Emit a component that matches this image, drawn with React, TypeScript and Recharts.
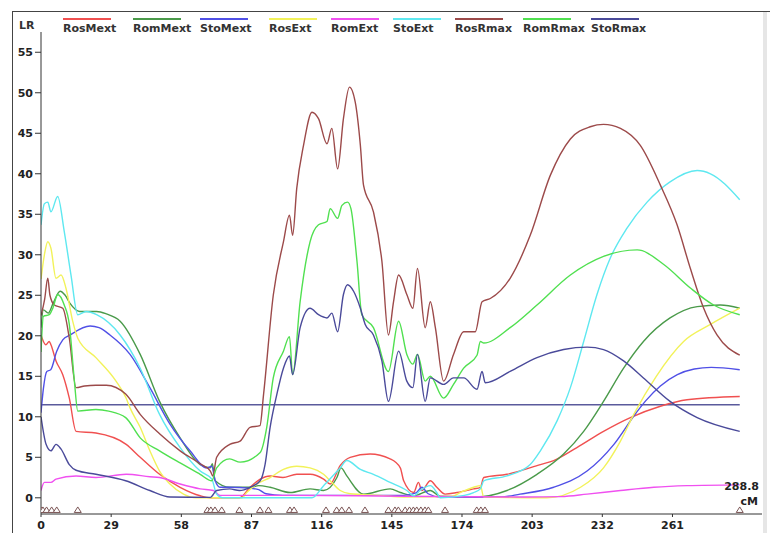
import React from 'react';
import { ComposedChart, Line, Scatter, XAxis, YAxis, ReferenceLine } from 'recharts';

// LR profiles along the linkage map, [cM, LR]
const rosMext: [number, number][] = [
  [0, 20.1], [2, 18.9], [3.4, 19.3], [4.1, 18.9], [6.2, 16.9], [9, 15.2], [11.7, 12.3], [14.5, 8.2],
  [22.7, 8.0], [35.2, 6.6], [41, 5.0], [49, 2.9], [57.5, 1.3], [65.8, 0.25], [70, 0], [82, 0],
  [86.4, 1.3], [90.6, 2.3], [94.7, 2.7], [100, 2.5], [105.7, 2.9], [111.2, 2.9], [116.8, 2.3],
  [119.5, 1.7], [123.7, 4.0], [127.8, 5.0], [136, 5.4], [144.3, 4.8], [148.5, 3.7], [149.9, 2.1],
  [154, 0.65], [156, 1.9], [157.4, 0.9], [160.9, 2.1], [163.6, 1.3], [167, 0.45], [171.9, 0.65],
  [178.8, 1.1], [181.6, 1.3], [183, 2.5], [192.6, 2.9], [206.4, 4.1], [211.9, 4.6], [221.5, 6.2],
  [232.5, 8.2], [243.6, 9.9], [256, 11.3], [267, 12.1], [288.8, 12.5],
];
const romMext: [number, number][] = [
  [0, 21], [1, 23.2], [3, 22.8], [5, 24], [7.9, 25.5], [10, 25], [12, 24], [16, 23], [23, 23],
  [27, 22.7], [32.7, 21.8], [41, 17.7], [49, 11.9], [57.5, 7.4], [65.8, 4.1], [70, 3.7], [70.8, 4.2],
  [72, 2.1], [78, 1.3], [86.4, 1.3], [90, 1.5], [94.7, 1.3], [103, 0.65], [111.2, 1.1], [116.8, 0.9],
  [122.3, 2.5], [124, 3.7], [126.4, 2.7], [133.3, 0.45], [144.3, 1.1], [148.5, 0.65], [154, 0.25],
  [160.9, 0.9], [165, 0.2], [180, 0.1], [192.6, 0.9], [205, 2.9], [216, 5.4], [224.3, 8.2],
  [232.5, 11.9], [240.8, 16], [249, 19.3], [260, 22.2], [271.2, 23.6], [280.8, 23.8], [288.8, 23.4],
];
const stoMext: [number, number][] = [
  [0, 10.5], [1, 13.5], [2.4, 15.6], [4, 15.8], [6.5, 18.1], [9, 19.5], [12, 20.1], [20.3, 21.2],
  [24, 21], [28.5, 20.1], [36.8, 17.7], [45, 13.6], [53.3, 9.1], [61.6, 5.8], [68.5, 3.7], [70.6, 3.9],
  [72, 2.1], [74, 1.3], [78, 1.3], [86, 1.2], [90, 1.0], [93, 0.5], [100, 0.3], [150, 0.3], [155, 0.6],
  [157.4, 1.3], [160, 0.5], [165, 0.1], [190, 0.1], [198, 0.45], [211.9, 1.3], [225.7, 3.3],
  [236.8, 6.6], [246, 10.5], [250, 12], [256, 13.8], [263, 15.2], [270, 15.9], [277, 16.1], [288.8, 15.8],
];
const rosExt: [number, number][] = [
  [0, 27], [1.4, 30], [2.8, 31.6], [4.1, 30.8], [6.2, 27.1], [8.3, 27.5], [10.3, 25.9], [13.1, 21.8],
  [15.2, 19.7], [22.7, 17.3], [31, 14.4], [35.2, 12.3], [36.8, 11.1], [41, 8.7], [45, 5.8], [49, 3.3],
  [53.3, 1.7], [58.9, 0.45], [64, 0], [83, 0], [85, 0.65], [89.2, 1.7], [94.7, 2.5], [100.2, 3.5],
  [105.7, 3.9], [111.2, 3.7], [116.8, 2.9], [120.2, 1.9], [123.7, 0.9], [127.8, 0.5], [140, 0.3],
  [150, 0.1], [170, 0.2], [173.3, 0.65], [178.8, 1.3], [181.6, 1.5], [183, 0.1], [209, 0], [223, 1.3],
  [232.5, 3.7], [239.5, 7.0], [245, 10.3], [254.3, 15], [265.6, 19.3], [276.7, 21.4], [288.8, 23.4],
];
const romExt: [number, number][] = [
  [0, 0.9], [1.4, 1.9], [4.1, 1.9], [6.2, 2.3], [14.5, 2.7], [22.7, 2.5], [35.2, 2.9], [45, 2.6],
  [49, 2.5], [57.5, 1.7], [65.8, 1.1], [71.3, 0.9], [74, 0.3], [100, 0.3], [150, 0.2], [200, 0.1],
  [215, 0.15], [225.7, 0.45], [239.5, 0.9], [253.3, 1.3], [267, 1.5], [288.8, 1.6],
];
const stoExt: [number, number][] = [
  [0, 33.7], [1.4, 36.3], [2.8, 36.5], [4.1, 35.3], [6.9, 37.2], [9.6, 32.9], [12.4, 27.5],
  [15.2, 22.6], [18.6, 23], [23, 22.6], [32.7, 20.1], [41, 16], [49, 10.3], [57.5, 6.2], [65.8, 3.3],
  [70.6, 2.3], [72.6, 0.45], [75, 0], [112, 0], [116.8, 1.5], [120, 2.5], [123.7, 3.7], [126.4, 4.6],
  [132, 3.5], [137.4, 2.9], [144.3, 1.9], [151.2, 0.9], [154, 0.25], [156.7, 0.9], [160.9, 1.5],
  [163.6, 0.65], [165, 0], [175, 0.3], [178.8, 0.65], [181.6, 1.1], [183, 2.1], [192.6, 2.7],
  [202.2, 4.1], [206.4, 5.8], [213.3, 9.5], [218.8, 13.6], [224.3, 19.3], [229.8, 25.1], [235.3, 29.6],
  [242.2, 33.3], [250.5, 36.5], [260, 39], [271.2, 40.4], [276.7, 40], [288.8, 36.8],
];
const rosRmax: [number, number][] = [
  [0, 22.5], [1.5, 24.5], [2.8, 27.1], [3.7, 25.0], [5.5, 23.8], [9, 23.4], [11.7, 19.7], [14.5, 13.6],
  [18, 13.8], [22.7, 13.9], [27, 13.9], [35, 12.8], [41, 10.3], [49, 7.9], [57.5, 5.8], [65.8, 4.2],
  [70, 3.3], [71, 2.7], [72.6, 5.0], [78, 6.6], [82.3, 7.0], [86.4, 8.7], [90.5, 8.9], [92, 12.8],
  [96, 25], [100.2, 31.6], [102.7, 34.9], [104, 32.4], [105.7, 38.2], [108.5, 43.5], [112, 47.6],
  [114.7, 46.8], [118.2, 43.7], [120.2, 45.6], [122.6, 40.6], [125, 46.8], [127.5, 50.7], [129.9, 48.8],
  [132, 43.5], [133.3, 38.6], [137.4, 35.3], [140.9, 29.2], [143.6, 20.1], [145.7, 24.2], [147.8, 27.5],
  [151.2, 25.1], [153.7, 23.4], [155.6, 28.3], [158.8, 21.0], [160.9, 24.2], [163, 21], [166.4, 14.4],
  [170.5, 17.7], [174.7, 20.5], [179.5, 20.5], [182.3, 24.2], [185.7, 24.6], [193.9, 27.1],
  [202.2, 32.4], [210.5, 39.8], [218.8, 44.3], [227, 45.8], [232.5, 46.1], [239.5, 45.6],
  [247.7, 43.5], [256, 38.6], [262.9, 33.7], [268.4, 28.3], [273.9, 23.4], [279.4, 20.1], [288.8, 17.6],
];
const romRmax: [number, number][] = [
  [0, 18], [1, 22.4], [3.4, 22.6], [5, 23.5], [6.9, 25.1], [9.6, 23.8], [11.7, 21.4], [13.8, 14.4],
  [15.2, 10.7], [22.7, 10.9], [28, 10.7], [35, 9.9], [41, 7.4], [49, 5.8], [57.5, 4.3], [65.8, 2.9],
  [70.6, 2.1], [72.6, 3.7], [78, 4.8], [82.3, 4.4], [90.6, 5.6], [93.3, 8.7], [96, 14.8], [100.2, 18.1],
  [102.7, 19.9], [104, 15.2], [107.1, 24.2], [111.2, 31.6], [114.7, 33.7], [118.2, 34.1], [119.5, 35.7],
  [122.6, 34.5], [124.4, 36.1], [126.7, 36.5], [128.1, 35.7], [130.6, 29.2], [132.6, 22.6], [137.4, 21],
  [143.6, 15.6], [147.8, 21.8], [151.2, 17.7], [153.7, 16.5], [155.6, 17.7], [158.8, 14.4], [160.9, 15],
  [166.4, 12.3], [170.5, 14], [174.7, 16.0], [180.2, 17.6], [181.6, 19.3], [183, 19.1], [193.9, 21],
  [205, 23.8], [218.8, 27.5], [232.5, 29.8], [246.4, 30.6], [257.4, 28.8], [268.4, 25.9], [278, 23.8],
  [288.8, 22.6],
];
const stoRmax: [number, number][] = [
  [0, 10], [2.1, 6.6], [4.1, 5.8], [6.2, 6.6], [8.3, 6.0], [11.7, 4.1], [14.5, 3.4], [22.7, 2.9],
  [35, 2.1], [45, 0.9], [53.3, 0.1], [70, 0.05], [72.6, 0.9], [78, 1.1], [82, 0.9], [86.4, 1.3],
  [90.6, 2.1], [92.6, 4.1], [94.7, 8.7], [97.5, 12.8], [100.2, 16], [102.7, 17.5], [104, 15.2],
  [107.1, 21], [111.2, 23.4], [114.7, 22.6], [118.2, 22.2], [120.2, 22.8], [122.6, 20.5], [125, 25.1],
  [126.7, 26.3], [129.2, 25.5], [132, 23.4], [134, 21.4], [137.4, 20.1], [140.9, 16.9], [143.6, 11.9],
  [147.8, 18.1], [151.2, 14.4], [153.7, 13.6], [155.6, 17.7], [158.8, 11.9], [160.9, 14.8], [166.4, 14],
  [170.5, 14.8], [174.7, 14.8], [180.2, 13.4], [182.3, 15.6], [183.6, 14.2], [193.9, 15.6], [205, 17.3],
  [216, 18.3], [225.7, 18.6], [232.5, 18.3], [240.8, 16.9], [249, 14.8], [260, 11.9], [271.2, 9.9],
  [288.8, 8.2],
];

// marker positions (cM) shown as triangles under the profiles
const markers = [
  0, 0.8, 2.3, 4.4, 6.5, 15.2, 68.8, 70.2, 71.9, 74.7, 82.0, 90.5, 94.0, 102.9, 104.6, 117.8, 122.2,
  124.3, 127.3, 133.9, 143.6, 146.3, 147.7, 150.5, 152.3, 153.9, 155.3, 157, 158.7, 160.1, 167, 180.1,
  181.8, 183.5, 288.8,
];

const threshold = 11.5;
const mapLength = 288.8;
const xTicks = [0, 29, 58, 87, 116, 145, 174, 203, 232, 261];
const yTicks = [0, 5, 10, 15, 20, 25, 30, 35, 40, 45, 50, 55];

const series = [
  { name: 'RosMext', color: '#f05050', data: rosMext, legendX: 63 },
  { name: 'RomMext', color: '#4a9a4a', data: romMext, legendX: 133 },
  { name: 'StoMext', color: '#5050e6', data: stoMext, legendX: 200 },
  { name: 'RosExt', color: '#f2f25a', data: rosExt, legendX: 269 },
  { name: 'RomExt', color: '#f050f0', data: romExt, legendX: 331 },
  { name: 'StoExt', color: '#5ee8f0', data: stoExt, legendX: 393 },
  { name: 'RosRmax', color: '#9c4a4a', data: rosRmax, legendX: 455 },
  { name: 'RomRmax', color: '#50e050', data: romRmax, legendX: 523 },
  { name: 'StoRmax', color: '#4a4a9a', data: stoRmax, legendX: 591 },
];

const font = 'DejaVu Sans, Verdana, sans-serif';
const tickStyle = { fontSize: 11, fontWeight: 'bold', fill: '#222', fontFamily: font };

const Triangle = (props: any) => {
  const { cx, cy } = props;
  if (cx == null || cy == null) return null;
  return (
    <polygon
      points={`${cx},${cy - 3} ${cx - 3.5},${cy + 2.5} ${cx + 3.5},${cy + 2.5}`}
      fill="#fff"
      stroke="#7a5454"
      strokeWidth={1}
    />
  );
};

const label = (left: number, top: number, text: string, extra: React.CSSProperties = {}) => (
  <div
    style={{
      position: 'absolute', left, top, fontFamily: font, fontSize: 11, fontWeight: 'bold',
      color: '#333', lineHeight: '13px', whiteSpace: 'nowrap', ...extra,
    }}
  >
    {text}
  </div>
);

export default function App() {
  const markerData = markers.map((x) => ({ x, y: -1.5 }));

  return (
    <div style={{ position: 'absolute', left: 0, top: 0, width: 770, height: 533, background: '#fff' }}>
      {/* frame */}
      <div style={{ position: 'absolute', left: 12, top: 11, width: 758, height: 0, borderTop: '1px solid #444' }} />
      <div style={{ position: 'absolute', left: 12, top: 11, width: 0, height: 522, borderLeft: '1px solid #444' }} />
      <div style={{ position: 'absolute', left: 763, top: 12, width: 4, height: 521, background: '#e6e6e6' }} />

      {/* legend */}
      {series.map((s) => (
        <React.Fragment key={s.name}>
          <div style={{ position: 'absolute', left: s.legendX, top: 18, width: 48, height: 0, borderTop: `2px solid ${s.color}` }} />
          {label(s.legendX, 22, s.name)}
        </React.Fragment>
      ))}
      {label(19, 19, 'LR')}

      <ComposedChart width={770} height={533} margin={{ top: 32, right: 8, bottom: 0, left: 0 }}>
        <XAxis
          type="number"
          dataKey="x"
          domain={[0, 298]}
          ticks={xTicks}
          allowDataOverflow
          height={19}
          tick={tickStyle}
          tickSize={3}
          tickMargin={4}
          axisLine={{ stroke: '#333' }}
          tickLine={{ stroke: '#333' }}
        />
        <YAxis
          type="number"
          dataKey="y"
          domain={[-2, 57.5]}
          ticks={yTicks}
          allowDataOverflow
          width={41}
          tick={tickStyle}
          tickSize={6}
          tickMargin={2}
          axisLine={{ stroke: '#333' }}
          tickLine={{ stroke: '#333' }}
        />
        <ReferenceLine
          segment={[{ x: 0, y: threshold }, { x: mapLength, y: threshold }]}
          stroke="#5a5a9c"
          strokeWidth={1.5}
        />
        {series.map((s) => (
          <Line
            key={s.name}
            data={s.data.map(([x, y]) => ({ x, y }))}
            dataKey="y"
            type="monotone"
            stroke={s.color}
            strokeWidth={1.4}
            dot={false}
            isAnimationActive={false}
          />
        ))}
        <Scatter data={markerData} dataKey="y" shape={<Triangle />} isAnimationActive={false} />
      </ComposedChart>

      {label(707, 480, String(mapLength), { width: 52, textAlign: 'right', color: '#222' })}
      {label(707, 495, 'cM', { width: 51, textAlign: 'right', color: '#222' })}
    </div>
  );
}
